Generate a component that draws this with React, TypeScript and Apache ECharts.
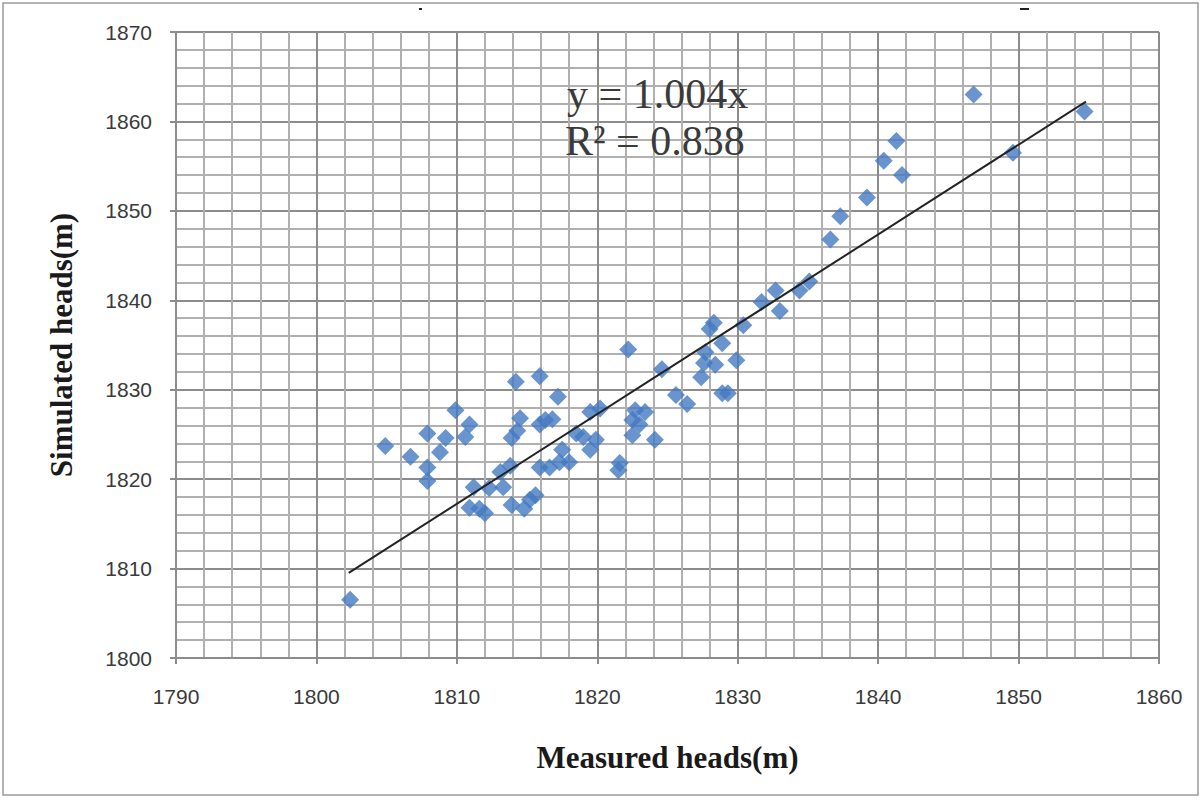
import React, { useEffect, useRef } from "react";
import * as echarts from "echarts";

// Measured heads (m) – x values
const measured: number[] = [
  1802.4, 1804.9, 1806.7, 1807.9, 1807.9, 1807.9, 1808.8, 1809.2, 1809.9, 1810.6,
  1810.9, 1810.9, 1811.2, 1811.6, 1812.0, 1812.3, 1813.1, 1813.3, 1813.8, 1813.9,
  1813.9, 1814.2, 1814.3, 1814.5, 1814.8, 1815.2, 1815.6, 1815.9, 1815.9, 1815.9,
  1816.3, 1816.6, 1816.8, 1817.2, 1817.3, 1817.5, 1818.0, 1818.5, 1819.0, 1819.5,
  1819.5, 1820.2, 1819.9, 1821.5, 1821.6, 1822.2, 1822.5, 1822.5, 1822.7, 1823.0,
  1823.4, 1824.1, 1824.6, 1825.6, 1826.4, 1827.6, 1827.4, 1827.7, 1828.0, 1828.3,
  1828.4, 1828.9, 1828.9, 1829.3, 1829.9, 1830.4, 1831.7, 1832.7, 1833.0, 1834.4,
  1835.1, 1836.6, 1837.3, 1839.2, 1840.4, 1841.3, 1841.7, 1846.8, 1849.6, 1854.7,
];

// Simulated heads (m) – y values
const simulated: number[] = [
  1806.5, 1823.7, 1822.5, 1825.1, 1821.3, 1819.8, 1823.0, 1824.6, 1827.7, 1824.7,
  1826.1, 1816.8, 1819.1, 1816.7, 1816.2, 1819.0, 1820.8, 1819.1, 1821.5, 1824.6,
  1817.1, 1830.9, 1825.4, 1826.8, 1816.7, 1817.7, 1818.2, 1831.5, 1826.1, 1821.3,
  1826.6, 1821.3, 1826.7, 1829.2, 1821.9, 1823.3, 1821.9, 1825.1, 1824.7, 1827.5,
  1823.3, 1827.9, 1824.4, 1821.0, 1821.8, 1834.5, 1826.6, 1824.9, 1827.7, 1826.1,
  1827.5, 1824.4, 1832.3, 1829.4, 1828.4, 1833.0, 1831.4, 1834.2, 1836.8, 1837.5,
  1832.8, 1835.2, 1829.6, 1829.6, 1833.3, 1837.2, 1839.8, 1841.1, 1838.8, 1841.1,
  1842.1, 1846.8, 1849.4, 1851.5, 1855.6, 1857.8, 1854.0, 1863.0, 1856.5, 1861.1,
];

// Trendline y = 1.004x over the measured range
const trendSlope = 1.004;
const trendRange: number[] = [1802.3, 1854.8];

const equationText = "y = 1.004x";
const r2Text = "R\u00B2 = 0.838";
const xTitle = "Measured heads(m)";
const yTitle = "Simulated heads(m)";

export default function App() {
  const ref = useRef<HTMLDivElement>(null);

  useEffect(() => {
    if (!ref.current) return;
    const chart = echarts.init(ref.current, undefined, { renderer: "svg" });
    const points = measured.map((x, i) => [x, simulated[i]]);
    const trend = trendRange.map((x) => [x, x * trendSlope]);

    const labelStyle = {
      color: "#3a3a3a",
      fontFamily: "Liberation Sans, Arial, sans-serif",
      fontSize: 21,
      formatter: (v: number) => String(v),
    };
    const titleStyle = {
      color: "#1a1a1a",
      fontFamily: "Liberation Serif, Times New Roman, serif",
      fontWeight: "bold" as const,
      fontSize: 31,
    };

    chart.setOption({
      animation: false,
      backgroundColor: "#ffffff",
      grid: { left: 176, right: 45, top: 32, bottom: 143, containLabel: false },
      xAxis: {
        type: "value",
        min: 1790,
        max: 1860,
        interval: 10,
        name: xTitle,
        nameLocation: "middle",
        nameGap: 84,
        nameTextStyle: titleStyle,
        axisLine: { show: true, lineStyle: { color: "#8c8c8c", width: 2 } },
        axisTick: { show: true, length: 6, lineStyle: { color: "#8c8c8c", width: 2 } },
        axisLabel: { ...labelStyle, margin: 28 },
        splitLine: { show: true, lineStyle: { color: "#8c8c8c", width: 2 } },
        minorTick: { show: false, splitNumber: 5 },
        minorSplitLine: { show: true, lineStyle: { color: "#b0b0b0", width: 2 } },
      },
      yAxis: {
        type: "value",
        min: 1800,
        max: 1870,
        interval: 10,
        name: yTitle,
        nameLocation: "middle",
        nameGap: 99,
        nameRotate: 90,
        nameTextStyle: titleStyle,
        axisLine: { show: true, lineStyle: { color: "#8c8c8c", width: 2 } },
        axisTick: { show: true, length: 6, lineStyle: { color: "#8c8c8c", width: 2 } },
        axisLabel: { ...labelStyle, margin: 24 },
        splitLine: { show: true, lineStyle: { color: "#8c8c8c", width: 2 } },
        minorTick: { show: false, splitNumber: 5 },
        minorSplitLine: { show: true, lineStyle: { color: "#b0b0b0", width: 2 } },
      },
      series: [
        {
          type: "scatter",
          data: points,
          symbol: "diamond",
          symbolSize: 18,
          itemStyle: { color: "#4479c2" },
          z: 3,
        },
        {
          type: "line",
          data: trend,
          symbol: "none",
          lineStyle: { color: "#222222", width: 2 },
          z: 4,
        },
      ],
      graphic: [
        {
          type: "rect",
          shape: { x: 3, y: 3, width: 1195, height: 792 },
          style: { fill: "none", stroke: "#9a9a9a", lineWidth: 1.5 },
          silent: true,
        },
        {
          type: "rect",
          shape: { x: 419, y: 8, width: 3, height: 2 },
          style: { fill: "#222" },
          silent: true,
        },
        {
          type: "rect",
          shape: { x: 1020, y: 8, width: 9, height: 2 },
          style: { fill: "#222" },
          silent: true,
        },
        {
          type: "text",
          left: 567,
          top: 73,
          z: 10,
          style: {
            text: equationText,
            fill: "#3a3a3a",
            font: "42px 'Liberation Serif', 'Times New Roman', serif",
          },
        },
        {
          type: "text",
          left: 565,
          top: 120,
          z: 10,
          style: {
            text: r2Text,
            fill: "#3a3a3a",
            font: "42px 'Liberation Serif', 'Times New Roman', serif",
          },
        },
      ],
    });

    return () => chart.dispose();
  }, []);

  return (
    <div
      ref={ref}
      style={{ position: "fixed", left: 0, top: 0, width: 1204, height: 801, background: "#fff" }}
    />
  );
}
